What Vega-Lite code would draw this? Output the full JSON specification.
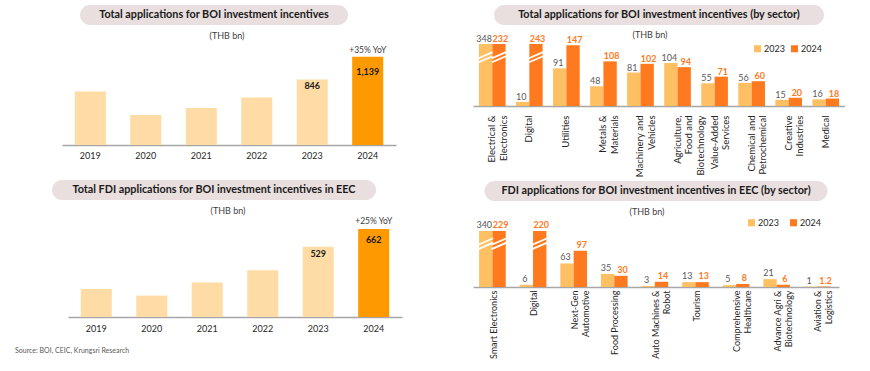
{
  "$schema": "https://vega.github.io/schema/vega-lite/v6.json",
  "background": "white",
  "padding": {"left": 15, "top": 5, "right": 0, "bottom": 0},
  "config": {
    "font": "Lato",
    "view": {"stroke": null},
    "axis": {"labelFont": "Lato", "titleFont": "Lato"},
    "legend": {"labelFont": "Lato"}
  },
  "title": {"text": "Source: BOI, CEIC, Krungsri Research", "orient": "bottom", "anchor": "start", "fontSize": 7, "fontWeight": "normal", "color": "#595959", "dx": -37, "offset": -12},
  "spacing": 68,
  "resolve": {"scale": {"color": "independent"}, "legend": {"color": "independent"}},
  "hconcat": [
    {
      "spacing": 20,
      "vconcat": [
        {
          "spacing": 6,
          "vconcat": [
            {
              "spacing": 0,
              "hconcat": [
                {"width": 28, "height": 20, "data": {"values": [{}]}, "mark": {"type": "point", "opacity": 0}, "encoding": {}},
                {
                  "width": 268, "height": 20,
                  "view": {"fill": "#E9DFDF", "cornerRadius": 10, "stroke": null},
                  "data": {"values": [{"t": "Total applications for BOI investment incentives"}]},
                  "mark": {"type": "text", "fontWeight": "bold", "fontSize": 10.8, "color": "#1a1a1a"},
                  "encoding": {"text": {"field": "t"}}
                }
              ]
            },
            {
              "spacing": 0,
              "hconcat": [
                {"width": 10, "height": 1, "data": {"values": [{}]}, "mark": {"type": "point", "opacity": 0}, "encoding": {}},
                {
                  "width": 334, "height": 93,
                  "title": {"text": "(THB bn)", "fontSize": 9, "fontWeight": "normal", "color": "#404040", "offset": 5, "anchor": "middle", "frame": "group", "dx": -2},
                  "data": {"values": [
                    {"year": "2019", "value": 690},
                    {"year": "2020", "value": 388},
                    {"year": "2021", "value": 479},
                    {"year": "2022", "value": 612},
                    {"year": "2023", "value": 846},
                    {"year": "2024", "value": 1139, "note": "+35% YoY"}
                  ]},
                  "encoding": {
                    "x": {"field": "year", "type": "nominal", "scale": {"paddingInner": 0.44, "paddingOuter": 0.23}, "axis": {"title": null, "labelAngle": 0, "ticks": false, "domainColor": "#A6A6A6", "domainWidth": 1.5, "labelFontSize": 9, "labelColor": "#262626", "labelPadding": 6}},
                    "y": {"field": "value", "type": "quantitative", "scale": {"domain": [0, 1200]}, "axis": null}
                  },
                  "layer": [
                    {"mark": {"type": "bar"}, "encoding": {"color": {"condition": {"test": "datum.year == '2024'", "value": "#FF9900"}, "value": "#FFDCA6"}}},
                    {"transform": [{"filter": "datum.year == '2023'"}], "mark": {"type": "text", "baseline": "top", "dy": 3, "fontWeight": "bold", "fontSize": 9, "color": "#1a1a1a"}, "encoding": {"text": {"field": "value", "type": "quantitative", "format": ","}}},
                    {"transform": [{"filter": "datum.year == '2024'"}], "mark": {"type": "text", "baseline": "top", "dy": 11, "fontWeight": "bold", "fontSize": 9, "color": "#1a1a1a"}, "encoding": {"text": {"field": "value", "type": "quantitative", "format": ","}}},
                    {"transform": [{"filter": "isValid(datum.note)"}], "mark": {"type": "text", "baseline": "bottom", "dy": -2, "fontSize": 8.5, "color": "#404040"}, "encoding": {"text": {"field": "note"}}}
                  ]
                }
              ]
            }
          ]
        },
        {
          "spacing": 6,
          "vconcat": [
            {
              "width": 324, "height": 20,
              "view": {"fill": "#E9DFDF", "cornerRadius": 10, "stroke": null},
              "data": {"values": [{"t": "Total FDI applications for BOI investment incentives in EEC"}]},
              "mark": {"type": "text", "fontWeight": "bold", "fontSize": 10.8, "color": "#1a1a1a"},
              "encoding": {"text": {"field": "t"}}
            },
            {
              "spacing": 0,
              "hconcat": [
                {"width": 16, "height": 1, "data": {"values": [{}]}, "mark": {"type": "point", "opacity": 0}, "encoding": {}},
                {
                  "width": 334, "height": 93,
                  "title": {"text": "(THB bn)", "fontSize": 9, "fontWeight": "normal", "color": "#404040", "offset": 1.5, "anchor": "middle", "frame": "group", "dx": -7},
                  "data": {"values": [
                    {"year": "2019", "value": 211},
                    {"year": "2020", "value": 161},
                    {"year": "2021", "value": 260},
                    {"year": "2022", "value": 352},
                    {"year": "2023", "value": 529},
                    {"year": "2024", "value": 662, "note": "+25% YoY"}
                  ]},
                  "encoding": {
                    "x": {"field": "year", "type": "nominal", "scale": {"paddingInner": 0.44, "paddingOuter": 0.23}, "axis": {"title": null, "labelAngle": 0, "ticks": false, "domainColor": "#A6A6A6", "domainWidth": 1.5, "labelFontSize": 9, "labelColor": "#262626", "labelPadding": 7}},
                    "y": {"field": "value", "type": "quantitative", "scale": {"domain": [0, 700]}, "axis": null}
                  },
                  "layer": [
                    {"mark": {"type": "bar"}, "encoding": {"color": {"condition": {"test": "datum.year == '2024'", "value": "#FF9900"}, "value": "#FFDCA6"}}},
                    {"transform": [{"filter": "datum.year == '2023'"}], "mark": {"type": "text", "baseline": "top", "dy": 3, "fontWeight": "bold", "fontSize": 9, "color": "#1a1a1a"}, "encoding": {"text": {"field": "value", "type": "quantitative", "format": ","}}},
                    {"transform": [{"filter": "datum.year == '2024'"}], "mark": {"type": "text", "baseline": "top", "dy": 7, "fontWeight": "bold", "fontSize": 9, "color": "#1a1a1a"}, "encoding": {"text": {"field": "value", "type": "quantitative", "format": ","}}},
                    {"transform": [{"filter": "isValid(datum.note)"}], "mark": {"type": "text", "baseline": "bottom", "dy": -3, "fontSize": 8.5, "color": "#404040"}, "encoding": {"text": {"field": "note"}}}
                  ]
                }
              ]
            }
          ]
        }
      ]
    },
    {
      "spacing": 4,
      "resolve": {"scale": {"color": "independent"}, "legend": {"color": "independent"}},
      "vconcat": [
        {
          "spacing": 5,
          "center": true,
          "resolve": {"scale": {"color": "independent"}, "legend": {"color": "independent"}},
          "vconcat": [
            {
              "width": 330, "height": 20,
              "view": {"fill": "#E9DFDF", "cornerRadius": 10, "stroke": null},
              "data": {"values": [{"t": "Total applications for BOI investment incentives (by sector)"}]},
              "mark": {"type": "text", "fontWeight": "bold", "fontSize": 10.8, "color": "#1a1a1a"},
              "encoding": {"text": {"field": "t"}}
            },
            {
              "width": 372, "height": 62,
              "title": {"text": "(THB bn)", "fontSize": 9, "fontWeight": "normal", "color": "#404040", "offset": -4.7, "anchor": "middle", "frame": "group", "dx": -9},
              "data": {"values": [
                {"sector": "Electrical &|Electronics", "year": "2023", "value": 348},
                {"sector": "Electrical &|Electronics", "year": "2024", "value": 232},
                {"sector": "Digital", "year": "2023", "value": 10},
                {"sector": "Digital", "year": "2024", "value": 243},
                {"sector": "Utilities", "year": "2023", "value": 91},
                {"sector": "Utilities", "year": "2024", "value": 147},
                {"sector": "Metals &|Materials", "year": "2023", "value": 48},
                {"sector": "Metals &|Materials", "year": "2024", "value": 108},
                {"sector": "Machinery and|Vehicles", "year": "2023", "value": 81},
                {"sector": "Machinery and|Vehicles", "year": "2024", "value": 102},
                {"sector": "Agriculture,|Food and|Biotechnology", "year": "2023", "value": 104},
                {"sector": "Agriculture,|Food and|Biotechnology", "year": "2024", "value": 94},
                {"sector": "Value-Added|Services", "year": "2023", "value": 55},
                {"sector": "Value-Added|Services", "year": "2024", "value": 71},
                {"sector": "Chemical and|Petrochemical", "year": "2023", "value": 56},
                {"sector": "Chemical and|Petrochemical", "year": "2024", "value": 60},
                {"sector": "Creative|Industries", "year": "2023", "value": 15},
                {"sector": "Creative|Industries", "year": "2024", "value": 20},
                {"sector": "Medical", "year": "2023", "value": 16},
                {"sector": "Medical", "year": "2024", "value": 18}
              ]},
              "encoding": {
                "x": {"field": "sector", "type": "nominal", "sort": null, "scale": {"paddingInner": 0.28, "paddingOuter": 0.16}, "axis": {"title": null, "labelAngle": 270, "ticks": false, "domainColor": "#A6A6A6", "domainWidth": 1.5, "labelFontSize": 9.5, "labelColor": "#262626", "labelPadding": 9, "labelLineHeight": 11.5, "labelExpr": "split(datum.label, '|')"}},
                "xOffset": {"field": "year", "type": "nominal", "scale": {"paddingInner": 0}},
                "y": {"field": "value", "type": "quantitative", "scale": {"domain": [0, 150], "clamp": true}, "axis": null}
              },
              "layer": [
                {"mark": {"type": "bar"}, "encoding": {"color": {"field": "year", "type": "nominal", "scale": {"domain": ["2023", "2024"], "range": ["#FFC064", "#FF7A1E"]}, "legend": {"title": null, "orient": "none", "legendX": 280, "legendY": 0, "direction": "horizontal", "symbolType": "square", "symbolSize": 50, "labelFontSize": 9, "labelColor": "#262626", "columnPadding": 5, "labelOffset": 2}}}},
                {"transform": [{"filter": "datum.value > 150"}], "mark": {"type": "point", "shape": "M-1,0.72L1,-0.14M-1,0.14L1,-0.72", "filled": false, "stroke": "white", "strokeWidth": 1.8, "size": 196, "opacity": 1}, "encoding": {"y": {"datum": 118}}},
                {"transform": [{"filter": "datum.year == '2023'"}], "mark": {"type": "text", "baseline": "bottom", "dy": 0, "dx": -1.5, "fontSize": 9, "color": "#595959"}, "encoding": {"text": {"field": "value", "type": "quantitative"}}},
                {"transform": [{"filter": "datum.year == '2024'"}], "mark": {"type": "text", "baseline": "bottom", "dy": 0, "dx": 1.5, "fontSize": 9, "fontWeight": "bold", "color": "#FF7A1E"}, "encoding": {"text": {"field": "value", "type": "quantitative"}}}
              ]
            }
          ]
        },
        {
          "spacing": 7,
          "center": true,
          "resolve": {"scale": {"color": "independent"}, "legend": {"color": "independent"}},
          "vconcat": [
            {
              "width": 343, "height": 20,
              "view": {"fill": "#E9DFDF", "cornerRadius": 10, "stroke": null},
              "data": {"values": [{"t": "FDI applications for BOI investment incentives in EEC (by sector)"}]},
              "mark": {"type": "text", "fontWeight": "bold", "fontSize": 10.8, "color": "#1a1a1a"},
              "encoding": {"text": {"field": "t"}}
            },
            {
              "width": 366, "height": 56,
              "title": {"text": "(THB bn)", "fontSize": 9, "fontWeight": "normal", "color": "#404040", "offset": 1, "anchor": "middle", "frame": "group", "dx": -9},
              "data": {"values": [
                {"sector": "Smart Electronics", "year": "2023", "value": 340},
                {"sector": "Smart Electronics", "year": "2024", "value": 229},
                {"sector": "Digital", "year": "2023", "value": 6},
                {"sector": "Digital", "year": "2024", "value": 220},
                {"sector": "Next-Gen|Automotive", "year": "2023", "value": 63},
                {"sector": "Next-Gen|Automotive", "year": "2024", "value": 97},
                {"sector": "Food Processing", "year": "2023", "value": 35},
                {"sector": "Food Processing", "year": "2024", "value": 30},
                {"sector": "Auto Machines &|Robot", "year": "2023", "value": 3},
                {"sector": "Auto Machines &|Robot", "year": "2024", "value": 14},
                {"sector": "Tourism", "year": "2023", "value": 13},
                {"sector": "Tourism", "year": "2024", "value": 13},
                {"sector": "Comprehensive|Healthcare", "year": "2023", "value": 5},
                {"sector": "Comprehensive|Healthcare", "year": "2024", "value": 8},
                {"sector": "Advance Agri &|Biotechnology", "year": "2023", "value": 21},
                {"sector": "Advance Agri &|Biotechnology", "year": "2024", "value": 6},
                {"sector": "Aviation &|Logistics", "year": "2023", "value": 1},
                {"sector": "Aviation &|Logistics", "year": "2024", "value": 1.2}
              ]},
              "encoding": {
                "x": {"field": "sector", "type": "nominal", "sort": null, "scale": {"paddingInner": 0.287, "paddingOuter": 0.15}, "axis": {"title": null, "labelAngle": 270, "ticks": false, "domainColor": "#A6A6A6", "domainWidth": 1.5, "labelFontSize": 9, "labelColor": "#262626", "labelPadding": 3, "labelLineHeight": 11, "labelExpr": "split(datum.label, '|')"}},
                "xOffset": {"field": "year", "type": "nominal", "scale": {"paddingInner": 0}},
                "y": {"field": "value", "type": "quantitative", "scale": {"domain": [0, 150], "clamp": true}, "axis": {"labels": false, "ticks": false, "domain": false, "grid": false, "title": null, "minExtent": 3}}
              },
              "layer": [
                {"mark": {"type": "bar"}, "encoding": {"color": {"field": "year", "type": "nominal", "scale": {"domain": ["2023", "2024"], "range": ["#FFC064", "#FF7A1E"]}, "legend": {"title": null, "orient": "none", "legendX": 274, "legendY": -13, "direction": "horizontal", "symbolType": "square", "symbolSize": 50, "labelFontSize": 9, "labelColor": "#262626", "columnPadding": 10, "labelOffset": 2}}}},
                {"transform": [{"filter": "datum.value > 150"}], "mark": {"type": "point", "shape": "M-1,0.72L1,-0.14M-1,0.14L1,-0.72", "filled": false, "stroke": "white", "strokeWidth": 1.8, "size": 225, "opacity": 1}, "encoding": {"y": {"datum": 116}}},
                {"transform": [{"filter": "datum.year == '2023'"}], "mark": {"type": "text", "baseline": "bottom", "dy": -1, "dx": -1.5, "fontSize": 9, "color": "#595959"}, "encoding": {"text": {"field": "value", "type": "quantitative"}}},
                {"transform": [{"filter": "datum.year == '2024'"}], "mark": {"type": "text", "baseline": "bottom", "dy": -1, "dx": 1.5, "fontSize": 9, "fontWeight": "bold", "color": "#FF7A1E"}, "encoding": {"text": {"field": "value", "type": "quantitative"}}}
              ]
            }
          ]
        }
      ]
    }
  ]
}
